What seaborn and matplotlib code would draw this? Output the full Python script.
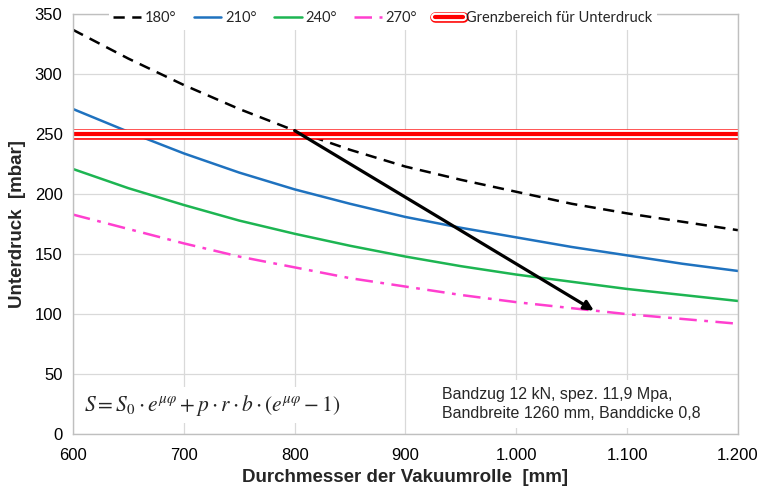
import numpy as np
import pandas as pd
import seaborn as sns
import matplotlib.pyplot as plt
import matplotlib.patheffects as pe
from matplotlib.ticker import FuncFormatter

# Durchmesser der Vakuumrolle [mm]
durchmesser = [600, 650, 700, 750, 800, 850, 900, 950, 1000, 1050, 1100, 1150, 1200]
# Unterdruck [mbar] je Umschlingungswinkel
u180 = [337, 313, 291, 271, 253, 237, 223, 212, 202, 192, 184, 177, 170]
u210 = [271, 252, 234, 218, 204, 192, 181, 172, 164, 156, 149, 142, 136]
u240 = [221, 205, 191, 178, 167, 157, 148, 140, 133, 127, 121, 116, 111]
u270 = [183, 171, 159, 148, 139, 130, 123, 116, 110, 105, 100, 96, 92]

grenz_x = [600, 1200]
grenz_y = [250, 250]

pfeil_start = (800, 253)
pfeil_ende = (1070, 103)

sns.set_style("whitegrid", {"grid.color": "#d9d9d9", "axes.edgecolor": "#bfbfbf"})
plt.rcParams["font.family"] = ["Liberation Sans", "DejaVu Sans"]
plt.rcParams["mathtext.fontset"] = "stix"

fig, ax = plt.subplots(figsize=(7.6, 4.9), dpi=100)
fig.subplots_adjust(left=0.096, right=0.971, bottom=0.114, top=0.971)

sns.lineplot(x=durchmesser, y=u180, ax=ax, color="black", linestyle=(0, (4.5, 3)), lw=1.8, label="180°")
sns.lineplot(x=durchmesser, y=u210, ax=ax, color="#1f72bf", lw=1.8, label="210°")
sns.lineplot(x=durchmesser, y=u240, ax=ax, color="#1db552", lw=1.8, label="240°")
sns.lineplot(x=durchmesser, y=u270, ax=ax, color="#ff3fcf", linestyle=(0, (7, 3, 1.5, 3)), lw=1.8, label="270°")

sns.lineplot(x=grenz_x, y=grenz_y, ax=ax, color="#ff0000", lw=3.0,
             label="Grenzbereich für Unterdruck")
ax.lines[-1].set_path_effects([pe.Stroke(linewidth=7.6, foreground="#ff0000"),
                               pe.Stroke(linewidth=6.0, foreground="white"),
                               pe.Normal()])

ax.annotate("", xy=pfeil_ende, xytext=pfeil_start,
            arrowprops=dict(arrowstyle="-|>", lw=2.3, color="black", mutation_scale=14,
                            shrinkA=0, shrinkB=0))

ax.set_xlim(600, 1200)
ax.set_ylim(0, 350)
ax.set_xticks(range(600, 1201, 100))
ax.set_yticks(range(0, 351, 50))
ax.xaxis.set_major_formatter(FuncFormatter(lambda v, p: f"{v:,.0f}".replace(",", ".")))
ax.tick_params(labelsize=12, colors="black", length=4, color="#bfbfbf")
ax.tick_params(axis="x", pad=6)
ax.grid(True, color="#d9d9d9", lw=0.9)
for s in ax.spines.values():
    s.set_color("#bfbfbf")
    s.set_linewidth(1)

ax.set_xlabel("Durchmesser der Vakuumrolle  [mm]", fontsize=13.5, fontweight="bold", labelpad=4)
ax.set_ylabel("Unterdruck  [mbar]", fontsize=13.5, fontweight="bold", labelpad=6)

ax.text(726, 24, r"$S = S_0\cdot e^{\mu\varphi} + p\cdot r\cdot b\cdot (e^{\mu\varphi} - 1)$",
        fontsize=15.5, ha="center", va="center", zorder=5,
        bbox=dict(fc="white", ec="none", pad=4))
ax.text(933, 25, "Bandzug 12 kN, spez. 11,9 Mpa,\nBandbreite 1260 mm, Banddicke 0,8",
        fontsize=11.5, ha="left", va="center", linespacing=1.3, zorder=5,
        bbox=dict(fc="white", ec="none", pad=5))

leg = ax.legend(loc="center", bbox_to_anchor=(0.466, 0.99), ncol=5, frameon=True,
                handlelength=1.9, handletextpad=0.25, columnspacing=1.2,
                borderpad=0.3, prop={"family": "Lato", "size": 10.5})
leg.get_frame().set_facecolor("white")
leg.get_frame().set_edgecolor("none")
leg.get_frame().set_alpha(1)

fig.savefig("out.png", dpi=100)
